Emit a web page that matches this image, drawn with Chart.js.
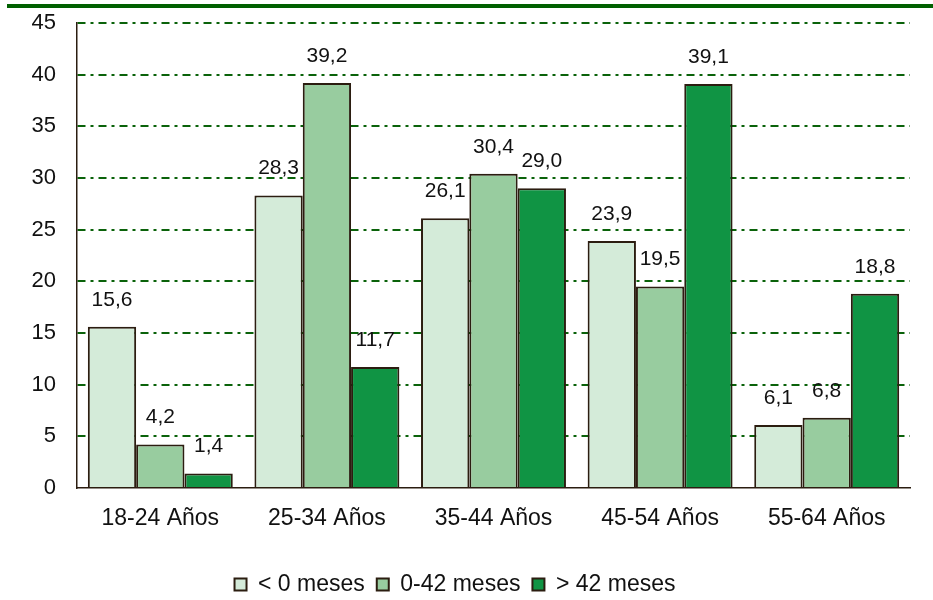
<!DOCTYPE html>
<html>
<head>
<meta charset="utf-8">
<script src="https://cdn.jsdelivr.net/npm/chart.js@4.4.0/dist/chart.umd.min.js"></script>
<style>
  html, body { margin: 0; padding: 0; background: #fff; }
  #wrap { width: 933px; height: 600px; }
</style>
</head>
<body>
<div id="wrap"><canvas id="myChart" width="933" height="600"></canvas></div>
<script>
const categories = ['18-24 Años', '25-34 Años', '35-44 Años', '45-54 Años', '55-64 Años'];
const seriesNames = ['< 0 meses', '0-42 meses', '> 42 meses'];
const menos0 = [15.6, 28.3, 26.1, 23.9, 6.1];
const de0a42 = [4.2, 39.2, 30.4, 19.5, 6.8];
const mas42 = [1.4, 11.7, 29.0, 39.1, 18.8];
const yTicks = [0, 5, 10, 15, 20, 25, 30, 35, 40, 45];

const colors = ['#d4ebd9', '#98cc9f', '#109444'];
const edge = '#2b1d10';
const font = '"Liberation Sans", Arial, sans-serif';

// linea verde superior
const topLine = {
    id: 'topLine',
    beforeDraw(chart) {
        const c = chart.ctx;
        c.save();
        c.fillStyle = '#006000';
        c.fillRect(7, 4, 926, 4);
        c.restore();
    }
};

// etiquetas de valores sobre las barras
const valueLabels = {
    id: 'valueLabels',
    afterDatasetsDraw(chart) {
        const c = chart.ctx;
        c.save();
        c.font = '21px ' + font;
        c.fillStyle = '#111';
        c.textAlign = 'center';
        c.textBaseline = 'middle';
        chart.data.datasets.forEach((ds, i) => {
            chart.getDatasetMeta(i).data.forEach((bar, j) => {
                const txt = ds.data[j].toFixed(1).replace('.', ',');
                c.fillText(txt, bar.x, bar.y - 27);
            });
        });
        c.restore();
    }
};

const ctx = document.getElementById('myChart').getContext('2d');
const myChart = new Chart(ctx, {
    type: 'bar',
    data: {
        labels: categories,
        datasets: [menos0, de0a42, mas42].map((d, i) => ({
            label: seriesNames[i],
            data: d,
            backgroundColor: colors[i],
            borderColor: edge,
            borderWidth: 2,
            borderSkipped: 'bottom',
            categoryPercentage: 0.87,
            barPercentage: 1
        }))
    },
    options: {
        responsive: false,
        animation: false,
        layout: { padding: { left: 0, right: 23, top: 23, bottom: -6 } },
        plugins: {
            tooltip: { enabled: false },
            legend: {
                position: 'bottom',
                labels: {
                    color: '#111',
                    font: { size: 23, family: font },
                    boxWidth: 12,
                    boxHeight: 12,
                    padding: 12
                }
            }
        },
        scales: {
            x: {
                grid: { display: false, drawTicks: false },
                border: { display: true, color: edge, width: 1.5 },
                ticks: {
                    color: '#111',
                    padding: 17,
                    font: { size: 23, family: font }
                },
                afterFit(scale) { scale.height = 73; }
            },
            y: {
                min: 0,
                max: 45,
                afterBuildTicks(scale) { scale.ticks = yTicks.map(v => ({ value: v })); },
                grid: {
                    drawTicks: false,
                    color: c => c.tick && c.tick.value === 0 ? 'rgba(0,0,0,0)' : '#0a620a',
                    lineWidth: 2
                },
                border: { display: true, color: edge, width: 1.5, dash: [8, 5, 3, 5] },
                ticks: {
                    color: '#111',
                    padding: 21,
                    font: { size: 22, family: font }
                },
                afterFit(scale) {
                    scale.width = 77;
                    scale.paddingTop = 0;
                    scale.paddingBottom = 0;
                }
            }
        }
    },
    plugins: [topLine, valueLabels]
});
</script>
</body>
</html>
